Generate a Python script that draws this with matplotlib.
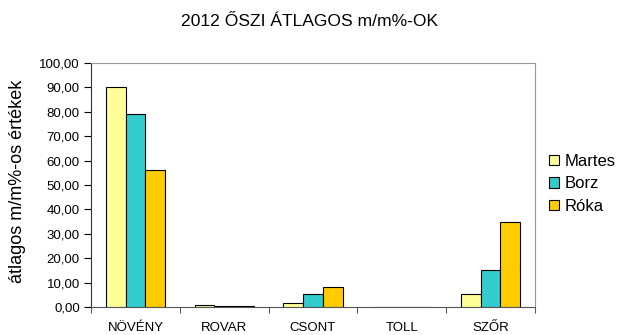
import numpy as np
from matplotlib import pyplot as plt
from matplotlib.ticker import FuncFormatter

plt.rcParams['font.family'] = ['Liberation Sans', 'DejaVu Sans']

categories = ["NÖVÉNY", "ROVAR", "CSONT", "TOLL", "SZŐR"]
martes = [90.0, 0.8, 1.5, 0.0, 5.5]
borz = [79.3, 0.3, 5.2, 0.0, 15.1]
roka = [56.0, 0.3, 8.1, 0.0, 35.0]
series_names = ["Martes", "Borz", "Róka"]
colors = ["#FFFF99", "#33CCCC", "#FFCC00"]

fig = plt.figure(figsize=(6.28, 3.35), dpi=100)
ax = fig.add_axes([91 / 628, 1 - 307 / 335, 444 / 628, 244 / 335])

x = np.arange(len(categories))
w = 1 / 4.5
for i, (vals, name, c) in enumerate(zip([martes, borz, roka], series_names, colors)):
    ax.bar(x + (i - 1) * w, vals, width=w, color=c, edgecolor="black",
           linewidth=0.8, label=name, zorder=3)

ax.set_xlim(-0.5, len(categories) - 0.5)
ax.set_ylim(0, 100)
ax.set_yticks(np.arange(0, 101, 10))
ax.yaxis.set_major_formatter(FuncFormatter(lambda v, p: f"{v:.2f}".replace(".", ",")))
ax.set_xticks(x)
ax.set_xticklabels(categories)
ax.set_xticks(np.arange(-0.5, len(categories), 1), minor=True)
ax.tick_params(axis="x", which="major", length=0, pad=11, labelsize=9.5)
ax.tick_params(axis="x", which="minor", length=4, direction="out", color="#333333")
ax.tick_params(axis="y", length=5, direction="out", labelsize=9.5, pad=3)

for s in ["top", "right"]:
    ax.spines[s].set_color("#999999")
ax.spines["left"].set_color("#333333")
ax.spines["bottom"].set_color("#555555")

# y label placed by hand
fig.text(18 / 628, 1 - 181 / 335, "átlagos m/m%-os értékek", fontsize=13,
         rotation=90, ha="center", va="center")
fig.suptitle("2012 ŐSZI ÁTLAGOS m/m%-OK", fontsize=12.6, x=0.493,
             y=1 - 21 / 335, va="center")

ax.legend(loc="center left", bbox_to_anchor=(549 / 628, 1 - 184 / 335),
          bbox_transform=fig.transFigure, frameon=False, borderpad=0,
          borderaxespad=0, fontsize=12, handlelength=0.6, handleheight=0.6,
          handletextpad=0.35, labelspacing=0.45)

plt.savefig("out.png", dpi=100)
